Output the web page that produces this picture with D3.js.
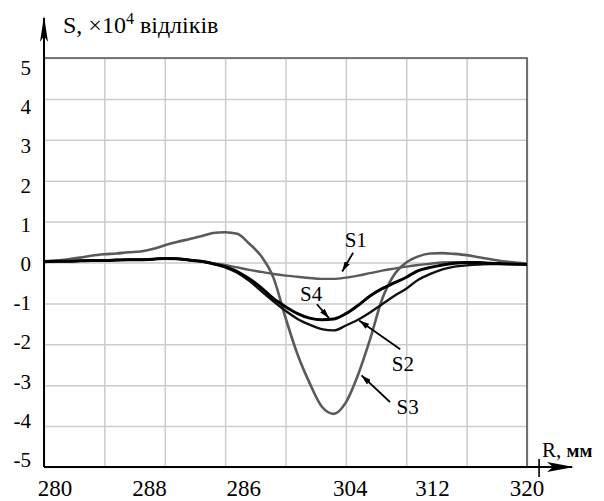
<!DOCTYPE html>
<html>
<head>
<meta charset="utf-8">
<script src="https://cdn.jsdelivr.net/npm/d3@7"></script>
</head>
<body style="margin:0;background:#fff">
<svg id="chart" width="604" height="501" style="display:block;font-family:'Liberation Serif'"></svg>
<script>
// R, mm - common sampling grid
const rValues = d3.range(280, 321, 1);

const s1Values = [0.02, 0.03, 0.03, 0.04, 0.05, 0.05, 0.06, 0.07, 0.07, 0.08, 0.1, 0.09, 0.06, 0.03, -0.02,
  -0.06, -0.12, -0.18, -0.23, -0.28, -0.32, -0.35, -0.38, -0.4, -0.4, -0.37, -0.32, -0.26, -0.2, -0.15,
  -0.1, -0.06, -0.03, 0.0, 0.01, 0.0, -0.01, -0.02, -0.03, -0.03, -0.04];
const s2Values = [0.02, 0.03, 0.03, 0.04, 0.05, 0.05, 0.06, 0.07, 0.07, 0.08, 0.1, 0.09, 0.06, 0.03, -0.03,
  -0.12, -0.25, -0.45, -0.7, -0.95, -1.18, -1.38, -1.52, -1.63, -1.66, -1.54, -1.4, -1.22, -1.02, -0.82,
  -0.64, -0.42, -0.28, -0.17, -0.1, -0.07, -0.05, -0.04, -0.04, -0.04, -0.05];
const s3Values = [0.03, 0.05, 0.08, 0.12, 0.17, 0.2, 0.22, 0.25, 0.27, 0.33, 0.42, 0.5, 0.57, 0.64, 0.72,
  0.74, 0.7, 0.46, 0.15, -0.37, -1.35, -2.25, -2.95, -3.52, -3.7, -3.42, -2.75, -1.88, -0.9, -0.3,
  0.0, 0.15, 0.22, 0.23, 0.21, 0.18, 0.13, 0.08, 0.03, 0.0, -0.03];
const s4Values = [0.02, 0.03, 0.03, 0.04, 0.05, 0.05, 0.06, 0.07, 0.07, 0.08, 0.1, 0.09, 0.06, 0.03, -0.03,
  -0.1, -0.22, -0.4, -0.62, -0.88, -1.08, -1.25, -1.36, -1.4, -1.38, -1.25, -1.05, -0.82, -0.64, -0.5,
  -0.36, -0.2, -0.12, -0.06, -0.02, 0.0, 0.0, -0.02, -0.03, -0.04, -0.05];

const xTickValues = [280, 288, 296, 304, 312, 320];
const xTickLabels = ["280", "288", "286", "304", "312", "320"];
const yTickValues = [5, 4, 3, 2, 1, 0, -1, -2, -3, -4, -5];

// label text, label anchor [R, S], arrow from [R, S] to [R, S]
const annotations = [
  { name: "S1", at: [304.9, 0.37], from: [305.6, 0.24], to: [304.7, -0.22] },
  { name: "S4", at: [301.2, -0.95], from: [302.6, -1.02], to: [303.6, -1.36] },
  { name: "S2", at: [308.8, -2.66], from: [309.5, -2.12], to: [306.1, -1.42] },
  { name: "S3", at: [309.2, -3.71], from: [308.65, -3.41], to: [306.3, -2.76] }
];

const series = [
  { key: "S1", values: s1Values, color: "#5a5a5a", width: 2.4 },
  { key: "S3", values: s3Values, color: "#5a5a5a", width: 2.6 },
  { key: "S2", values: s2Values, color: "#111", width: 2.4 },
  { key: "S4", values: s4Values, color: "#000", width: 3 }
];

const margin = { top: 58, right: 77, bottom: 34, left: 44 };
const width = 604, height = 501;
const serif = "'Liberation Serif'";
const svg = d3.select("#chart");

const x = d3.scaleLinear().domain([280, 320]).range([margin.left, width - margin.right]);
const y = d3.scaleLinear().domain([-5, 5]).range([height - margin.bottom, margin.top]);
// tick labels in the source sit slightly off the grid
const yLabelPos = d3.scaleLinear().domain([-5, 5]).range([460, 68]);
const xLabelPos = d3.scaleLinear().domain([280, 320]).range([55, 527]);

const defs = svg.append("defs");
defs.append("marker")
    .attr("id", "tip")
    .attr("viewBox", "0 0 10 6")
    .attr("refX", 10).attr("refY", 3)
    .attr("markerWidth", 10).attr("markerHeight", 6)
    .attr("markerUnits", "userSpaceOnUse")
    .attr("orient", "auto")
  .append("path")
    .attr("d", "M0,0L10,3L0,6Z")
    .attr("fill", "#000");

// grid
svg.append("g")
    .attr("transform", `translate(0,${y(-5)})`)
    .call(d3.axisBottom(x).ticks(10).tickSize(-(y(-5) - y(5))).tickFormat(""))
    .call(g => g.select(".domain").remove())
    .selectAll("line")
    .attr("stroke", "#cbcbcb")
    .attr("stroke-width", 1.5);

svg.append("g")
    .attr("transform", `translate(${x(280)},0)`)
    .call(d3.axisLeft(y).tickValues(yTickValues).tickSize(-(x(320) - x(280))).tickFormat(""))
    .call(g => g.select(".domain").remove())
    .selectAll("line")
    .attr("stroke", "#cbcbcb")
    .attr("stroke-width", 1.5);

// frame top + right
svg.append("path")
    .attr("d", `M${x(280)},${y(5)}H${x(320)}V${y(-5)}`)
    .attr("fill", "none")
    .attr("stroke", "#555")
    .attr("stroke-width", 1.6);

// curves
const line = d3.line()
    .x((d, i) => x(rValues[i]))
    .y(d => y(d))
    .curve(d3.curveMonotoneX);

svg.append("g")
  .selectAll("path")
  .data(series)
  .join("path")
    .attr("d", d => line(d.values))
    .attr("fill", "none")
    .attr("stroke", d => d.color)
    .attr("stroke-width", d => d.width)
    .attr("stroke-linejoin", "round");

// axes with arrows
svg.append("line")
    .attr("x1", x(280)).attr("y1", y(-5))
    .attr("x2", x(280)).attr("y2", 18)
    .attr("stroke", "#000").attr("stroke-width", 2);
svg.append("path")
    .attr("d", `M${x(280)},16L${x(280) - 4},42L${x(280)},36L${x(280) + 4},42Z`)
    .attr("fill", "#000");

svg.append("line")
    .attr("x1", x(280)).attr("y1", y(-5))
    .attr("x2", 572).attr("y2", y(-5))
    .attr("stroke", "#000").attr("stroke-width", 2);
svg.append("path")
    .attr("d", `M574,${y(-5)}L547,${y(-5) - 5}L553,${y(-5)}L547,${y(-5) + 5}Z`)
    .attr("fill", "#000");
svg.append("line")
    .attr("x1", x(321)).attr("y1", y(-5) - 8)
    .attr("x2", x(321)).attr("y2", y(-5) + 10)
    .attr("stroke", "#000").attr("stroke-width", 1.6);

// tick labels
svg.append("g")
  .selectAll("text")
  .data(yTickValues)
  .join("text")
    .attr("x", 31)
    .attr("y", d => yLabelPos(d))
    .attr("dy", "0.33em")
    .attr("text-anchor", "end")
    .style("font-family", serif)
    .style("font-size", "21px")
    .text(d => d);

svg.append("g")
  .selectAll("text")
  .data(xTickValues)
  .join("text")
    .attr("x", (d, i) => xLabelPos(d) + (i === 3 ? 12 : 0))
    .attr("y", 496)
    .attr("text-anchor", "middle")
    .style("font-family", serif)
    .style("font-size", "23px")
    .text((d, i) => xTickLabels[i]);

// axis titles
const yTitle = svg.append("text")
    .attr("x", 63).attr("y", 33)
    .style("font-family", serif)
    .style("font-size", "24px");
yTitle.append("tspan").text("S, ×10");
yTitle.append("tspan").style("font-size", "16px").attr("dy", -9).text("4");
yTitle.append("tspan").attr("dy", 9).text(" відліків");

const xTitle = svg.append("text")
    .attr("x", 542).attr("y", 457)
    .style("font-family", serif)
    .style("font-size", "21px");
xTitle.append("tspan").text("R, ");
xTitle.append("tspan").style("font-weight", "bold").style("font-size", "19px").text("мм");

// curve labels
const ann = svg.append("g");
ann.selectAll("line")
  .data(annotations)
  .join("line")
    .attr("x1", d => x(d.from[0])).attr("y1", d => y(d.from[1]))
    .attr("x2", d => x(d.to[0])).attr("y2", d => y(d.to[1]))
    .attr("stroke", "#000")
    .attr("stroke-width", 1.8)
    .attr("marker-end", "url(#tip)");
ann.selectAll("text")
  .data(annotations)
  .join("text")
    .attr("x", d => x(d.at[0])).attr("y", d => y(d.at[1]))
    .style("font-family", serif)
    .style("font-size", "21px")
    .text(d => d.name);
</script>
</body>
</html>
